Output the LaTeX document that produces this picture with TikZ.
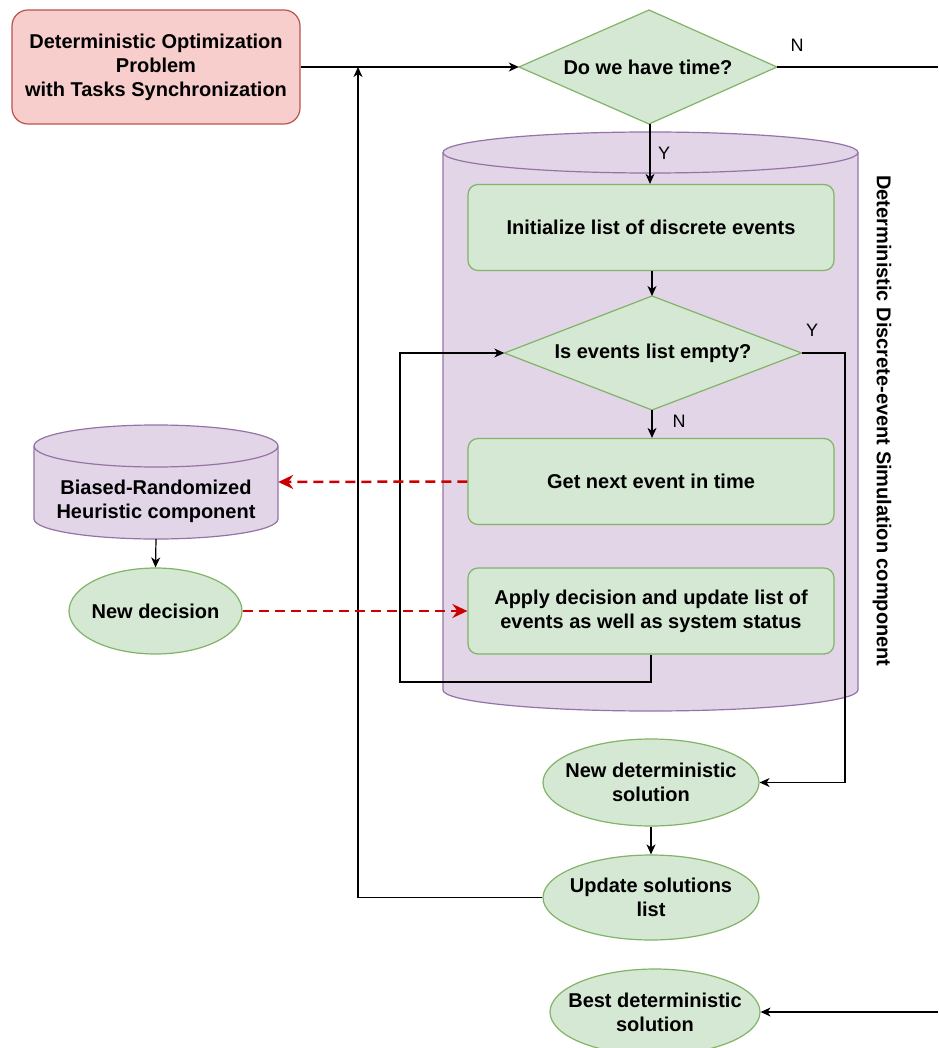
\documentclass[tikz,border=0pt]{standalone}
\usepackage{fontspec}
\setmainfont{Liberation Sans}
\usetikzlibrary{shapes.geometric,arrows.meta}
\definecolor{redfill}{HTML}{F8CECC}
\definecolor{redline}{HTML}{B85450}
\definecolor{gfill}{HTML}{D5E8D4}
\definecolor{gline}{HTML}{82B366}
\definecolor{pfill}{HTML}{E1D5E7}
\definecolor{pline}{HTML}{9673A6}
\definecolor{dred}{HTML}{CC0000}
\begin{document}
\begin{tikzpicture}[x=1pt,y=-1pt,
 lbl/.style={font=\fontsize{20}{24}\selectfont\bfseries, align=center, text=black},
 gbox/.style={lbl, rectangle, rounded corners=10pt, draw=gline, fill=gfill, line width=1.2pt, minimum width=366pt, minimum height=86pt, inner sep=0pt},
 gell/.style={lbl, ellipse, draw=gline, fill=gfill, line width=1.2pt, inner ysep=0pt, inner xsep=-30pt},
 gdiashape/.style={draw=gline, fill=gfill, line width=1.2pt, line join=miter},
 gdia/.style={lbl, rectangle, inner sep=0pt},
 conn/.style={draw=black, line width=1.2pt},
 arr/.style={conn, -{Stealth[length=10pt,width=9pt,inset=3pt]}},
 rarr/.style={draw=dred, line width=2.5pt, dash pattern=on 10pt off 6pt, -{Stealth[length=15pt,width=14pt,inset=5pt]}},
 yn/.style={font=\fontsize{18}{20}\selectfont, text=black},
 cyl/.style={fill=pfill, draw=pline, line width=1.2pt}
]
\fill[white] (0,0) rectangle (938,1048);
\useasboundingbox (0,0) rectangle (938,1048);

% big simulation cylinder
\path[cyl] (443,152.5) -- (443,690) arc[start angle=180,end angle=360,x radius=207.5pt,y radius=21pt]
  -- (858,152.5) arc[start angle=0,end angle=180,x radius=207.5pt,y radius=20.5pt] -- cycle;
\draw[draw=pline, line width=1.2pt] (443,152.5) arc[start angle=180,end angle=360,x radius=207.5pt,y radius=20.5pt];

% heuristic cylinder
\path[cyl] (34,446) -- (34,519) arc[start angle=180,end angle=360,x radius=122pt,y radius=20pt]
  -- (278,446) arc[start angle=0,end angle=180,x radius=122pt,y radius=21pt] -- cycle;
\draw[draw=pline, line width=1.2pt] (34,446) arc[start angle=180,end angle=360,x radius=122pt,y radius=21pt];

% diamond outlines
\path[gdiashape] (519,67) -- (649,10) -- (777,67) -- (649,124) -- cycle;
\path[gdiashape] (504.5,353) -- (652,296) -- (801.5,353) -- (652,410) -- cycle;

% nodes
\node[lbl, rectangle, rounded corners=16pt, draw=redline, fill=redfill, line width=1.2pt,
  minimum width=288pt, minimum height=114pt, inner sep=0pt] (prob) at (156,67)
  {Deterministic Optimization\\Problem\\with Tasks Synchronization};
\node[gdia, minimum width=258pt, minimum height=114pt] (time) at (648,67) {Do we have time?};
\node[gbox] (init) at (651,227.5) {Initialize list of discrete events};
\node[gdia, minimum width=297pt, minimum height=114pt] (empty) at (653,353) {Is events list empty?};
\node[gbox] (next) at (651,481.5) {Get next event in time};
\node[gbox] (apply) at (651,611) {Apply decision and update list of\\events as well as system status};
\node[rectangle, minimum width=244pt, minimum height=114pt, inner sep=0pt] (heur) at (156,482) {};
\node[lbl] (heurtxt) at (156,501) {Biased-Randomized\\Heuristic component};
\node[gell, minimum width=173pt, minimum height=86pt] (dec) at (155.5,611) {New decision};
\node[gell, minimum width=216pt, minimum height=87pt] (newsol) at (651,782.5) {New deterministic\\solution};
\node[gell, minimum width=216pt, minimum height=85pt] (upd) at (651,897.5) {Update solutions\\list};
\node[gell, minimum width=210pt, minimum height=86pt] (best) at (655,1012) {Best deterministic\\solution};
\node[lbl, rotate=-90] (side) at (882,421) {Deterministic Discrete-event Simulation component};

% helper coordinates
\coordinate (j1) at (358,67);
\coordinate (outN) at (938,67);
\coordinate (outS) at (938,1012);
\coordinate (rY) at (845,353);
\coordinate (lb) at (400,682);
\coordinate (tY) at (650,124);
\coordinate (eN) at (652,296);
\coordinate (eS) at (652,410);

% connectors
\draw[arr] (prob.east) -- (time.west);
\draw[arr] (upd.west) -| (j1);
\draw[conn] (time.east) -- (outN);
\draw[arr] (outS) -- (best.east);
\draw[arr] (tY) -- (tY |- init.north);
\draw[arr] (eN |- init.south) -- (eN);
\draw[arr] (empty.east) -- (rY) |- (newsol.east);
\draw[arr] (eS) -- (eS |- next.north);
\draw[arr] (apply.south) |- (lb) |- (empty.west);
\draw[arr] (heur.south) -- (dec.north);
\draw[arr] (newsol.south) -- (upd.north);
\draw[rarr] (next.west) -- (heur.east);
\draw[rarr] (dec.east) -- (apply.west);

% labels
\node[yn] (lN1) at (797,45) {N};
\node[yn] (lY1) at (664,153) {Y};
\node[yn] (lY2) at (812,330) {Y};
\node[yn] (lN2) at (679,421) {N};
\end{tikzpicture}
\end{document}
